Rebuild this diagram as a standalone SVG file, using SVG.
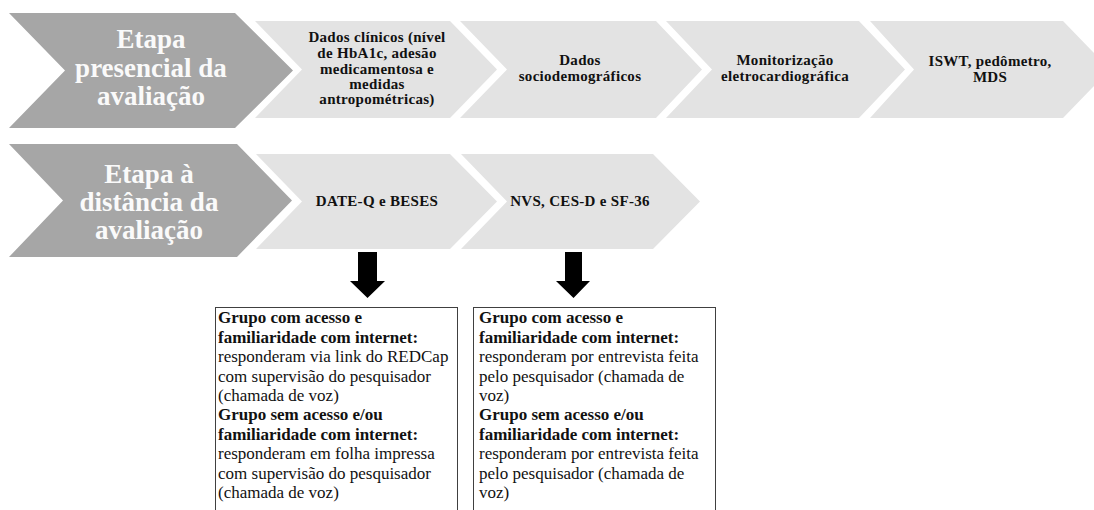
<svg xmlns="http://www.w3.org/2000/svg" width="1094" height="510" viewBox="0 0 1094 510">
<style>
.dark{fill:#a6a6a6}
.light{fill:#e3e3e3}
.big{font-family:"Liberation Serif","Times New Roman",serif;font-weight:bold;font-size:27px;fill:#fafafa;text-anchor:middle}
.lbl{font-family:"Liberation Serif","Times New Roman",serif;font-weight:bold;font-size:15px;fill:#111;text-anchor:middle;letter-spacing:0.3px}
.box{fill:#fff;stroke:#404040;stroke-width:1}
.bt{font-family:"Liberation Serif","Times New Roman",serif;font-size:17px;fill:#111}
.bt .b{font-weight:bold}
.arr{fill:#000}
</style>
<rect width="1094" height="510" fill="#fff"/>

<g id="etapa-presencial">
<polygon class="dark" points="9,13 235,13 293,70.5 235,128 9,128 65,70.5"/>
<text class="big"><tspan x="151" y="48">Etapa</tspan><tspan x="151" y="77">presencial da</tspan><tspan x="151" y="105">avaliação</tspan></text>
</g>

<g id="dados-clinicos">
<polygon class="light" points="255,21 450,21 497,69.5 450,118 255,118 302,69.5"/>
<text class="lbl"><tspan x="377" y="42">Dados  clínicos (nível</tspan><tspan x="377" y="58">de HbA1c, adesão</tspan><tspan x="377" y="74">medicamentosa e</tspan><tspan x="377" y="89">medidas</tspan><tspan x="377" y="104">antropométricas)</tspan></text>
</g>

<g id="dados-socio">
<polygon class="light" points="460,21 656,21 702,69.5 656,118 460,118 507,69.5"/>
<text class="lbl"><tspan x="580" y="65">Dados</tspan><tspan x="580" y="81">sociodemográficos</tspan></text>
</g>

<g id="monitorizacao">
<polygon class="light" points="666,21 859,21 905,69.5 859,118 666,118 712,69.5"/>
<text class="lbl"><tspan x="785" y="65">Monitorização</tspan><tspan x="785" y="81">eletrocardiográfica</tspan></text>
</g>

<g id="iswt">
<polygon class="light" points="870,21 1063,21 1110,69.5 1063,118 870,118 914,69.5"/>
<text class="lbl"><tspan x="990" y="66">ISWT,  pedômetro,</tspan><tspan x="990" y="82">MDS</tspan></text>
</g>

<g id="etapa-distancia">
<polygon class="dark" points="9,144 237,144 292,200.5 237,257 9,257 63,200.5"/>
<text class="big"><tspan x="149" y="183">Etapa à</tspan><tspan x="149" y="211">distância da</tspan><tspan x="149" y="239">avaliação</tspan></text>
</g>

<g id="date-q">
<polygon class="light" points="256,154 450,154 497,201.5 450,249 256,249 302,201.5"/>
<text class="lbl" x="377" y="206">DATE-Q  e BESES</text>
</g>

<g id="nvs">
<polygon class="light" points="461,154 653,154 700,201.5 653,249 461,249 507,201.5"/>
<text class="lbl" x="580" y="206">NVS,  CES-D  e SF-36</text>
</g>

<g id="connectors">
<polygon class="arr" points="358,252 377,252 377,281 385,281 367.5,298 350,281 358,281"/>
<polygon class="arr" points="565,252 582,252 582,281 590,281 573.5,298 556,281 565,281"/>
</g>

<g id="grupo-1">
<rect class="box" x="215.5" y="307.5" width="242" height="210"/>
<text class="bt"><tspan class="b" x="218" y="323">Grupo com acesso e</tspan><tspan class="b" x="218" y="342.5">familiaridade com internet:</tspan><tspan x="218" y="362">responderam via  link  do REDCap</tspan><tspan x="218" y="381.5">com supervisão do pesquisador</tspan><tspan x="218" y="401">(chamada de voz)</tspan><tspan class="b" x="218" y="420">Grupo sem acesso e/ou</tspan><tspan class="b" x="218" y="439.5">familiaridade com internet:</tspan><tspan x="218" y="459">responderam em  folha impressa</tspan><tspan x="218" y="478.5">com supervisão do pesquisador</tspan><tspan x="218" y="498">(chamada de voz)</tspan></text>
</g>

<g id="grupo-2">
<rect class="box" x="473.5" y="307.5" width="242" height="210"/>
<text class="bt"><tspan class="b" x="479" y="323">Grupo com acesso e</tspan><tspan class="b" x="479" y="342.5">familiaridade com internet:</tspan><tspan x="479" y="362">responderam por entrevista  feita</tspan><tspan x="479" y="381.5">pelo pesquisador (chamada de</tspan><tspan x="479" y="401">voz)</tspan><tspan class="b" x="479" y="420">Grupo sem acesso e/ou</tspan><tspan class="b" x="479" y="439.5">familiaridade com internet:</tspan><tspan x="479" y="459">responderam por entrevista  feita</tspan><tspan x="479" y="478.5">pelo pesquisador (chamada de</tspan><tspan x="479" y="498">voz)</tspan></text>
</g>
</svg>
